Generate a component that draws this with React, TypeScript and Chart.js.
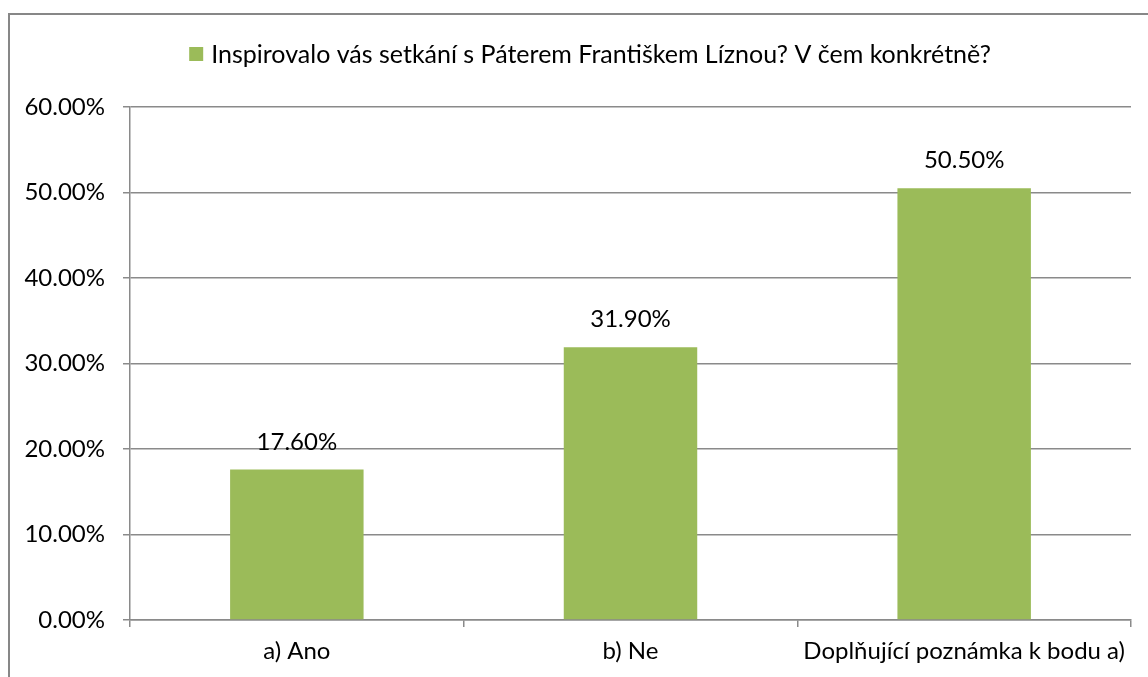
import React, { useEffect, useRef } from "react";
import { Chart, registerables } from "chart.js";

Chart.register(...registerables);

const categories = ["a) Ano", "b) Ne", "Doplňující poznámka k bodu a)"];
const values = [17.6, 31.9, 50.5];
const seriesLabel = "Inspirovalo vás setkání s Páterem Františkem Líznou? V čem konkrétně?";
const yMin = 0;
const yMax = 60;
const yStep = 10;

const FONT = "Lato, 'Open Sans', sans-serif";
const FS = 24;
const LEG_FS = 25;
const BAR = "#9BBB59";
const GRID = "#8a8a8a";

const labelPlugin = {
  id: "valueLabels",
  afterDatasetsDraw(chart: any) {
    const ctx = chart.ctx;
    const meta = chart.getDatasetMeta(0);
    ctx.save();
    ctx.font = `${FS}px ${FONT}`;
    ctx.fillStyle = "#000";
    ctx.textAlign = "center";
    ctx.textBaseline = "alphabetic";
    meta.data.forEach((el: any, i: number) => {
      const v = chart.data.datasets[0].data[i] as number;
      ctx.fillText(v.toFixed(2) + "%", el.x, el.y - 20);
    });
    ctx.restore();
  },
};

const legendPlugin = {
  id: "customLegend",
  afterDraw(chart: any) {
    const ctx = chart.ctx;
    const ds = chart.data.datasets[0];
    ctx.save();
    ctx.font = `${LEG_FS}px ${FONT}`;
    const tw = ctx.measureText(ds.label).width;
    const box = 14;
    const gap = 8;
    const total = box + gap + tw;
    const cx = 590;
    const x0 = cx - total / 2;
    const cy = 54;
    ctx.fillStyle = ds.backgroundColor;
    ctx.fillRect(x0, cy - box / 2, box, box);
    ctx.fillStyle = "#000";
    ctx.textBaseline = "middle";
    ctx.textAlign = "left";
    ctx.fillText(ds.label, x0 + box + gap, cy + 1);
    ctx.restore();
  },
};

export default function App() {
  const ref = useRef<HTMLCanvasElement>(null);
  useEffect(() => {
    if (!ref.current) return;
    const chart = new Chart(ref.current, {
      type: "bar",
      data: {
        labels: categories,
        datasets: [
          {
            label: seriesLabel,
            data: values,
            backgroundColor: BAR,
            borderWidth: 0,
            barPercentage: 0.4,
            categoryPercentage: 1,
          },
        ],
      },
      options: {
        animation: false,
        responsive: false,
        devicePixelRatio: 1,
        layout: { padding: { top: 107, right: 17, bottom: 0, left: 0 } },
        plugins: {
          legend: { display: false },
          tooltip: { enabled: false },
        },
        scales: {
          x: {
            grid: {
              display: true,
              drawOnChartArea: false,
              drawTicks: true,
              tickLength: 7,
              color: GRID,
              lineWidth: 1.5,
              offset: true,
            },
            border: { display: true, color: GRID, width: 1.5 },
            ticks: {
              color: "#000",
              font: { family: FONT, size: FS },
              padding: 10,
              maxRotation: 0,
              autoSkip: false,
            },
            afterFit: (s: any) => {
              s.height = 57;
            },
          },
          y: {
            min: yMin,
            max: yMax,
            grid: {
              color: GRID,
              lineWidth: 1.5,
              drawTicks: true,
              tickLength: 7,
            },
            border: { display: true, color: GRID, width: 1.5 },
            ticks: {
              stepSize: yStep,
              color: "#000",
              font: { family: FONT, size: FS },
              padding: 18,
              callback: (v: any) => Number(v).toFixed(2) + "%",
            },
            afterFit: (s: any) => {
              s.width = 130;
            },
          },
        },
      },
      plugins: [labelPlugin, legendPlugin],
    });
    return () => chart.destroy();
  }, []);

  return (
    <div
      style={{
        position: "fixed",
        left: 0,
        top: 0,
        width: 1148,
        height: 677,
        overflow: "hidden",
        background: "#fff",
      }}
    >
      <canvas ref={ref} width={1148} height={677} style={{ position: "absolute", left: 0, top: 0 }} />
      <div
        style={{
          position: "absolute",
          left: 8,
          top: 13,
          width: 1160,
          height: 700,
          borderTop: "2px solid #878787",
          borderLeft: "2px solid #878787",
          pointerEvents: "none",
        }}
      />
    </div>
  );
}
